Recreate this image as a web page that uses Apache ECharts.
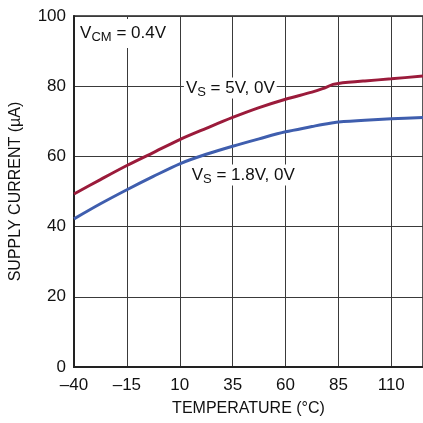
<!DOCTYPE html>
<html><head><meta charset="utf-8">
<script src="https://cdn.jsdelivr.net/npm/echarts@6/dist/echarts.min.js"></script>
<style>html,body{margin:0;padding:0;background:#fff}#c{width:423px;height:423px}</style>
</head><body><div id="c"></div>
<script>
const temps = [-40, -27.5, -15, -2.5, 10, 22.5, 35, 47.5, 60, 72.5, 77.5, 82.5, 85, 97.5, 110, 125];
const vs5 = [49.3, 53.4, 57.4, 61.1, 64.8, 68.0, 71.1, 73.9, 76.3, 78.3, 79.3, 80.5, 80.8, 81.5, 82.1, 82.9];
const vs18 = [42.2, 46.5, 50.5, 54.3, 57.9, 60.6, 62.9, 65.0, 67.0, 68.5, 69.1, 69.6, 69.8, 70.3, 70.7, 71.1];
const xTicks = [-40, -15, 10, 35, 60, 85, 110];
const yTicks = [0, 20, 40, 60, 80, 100];
const FONT = "'Liberation Sans', sans-serif";

const chart = echarts.init(document.getElementById('c'));
const toPts = arr => temps.map((t, i) => [t, arr[i]]);
const rich = {
  n: {fontFamily: FONT, fontSize: 17, color: '#111'},
  s: {fontFamily: FONT, fontSize: 13, color: '#111', padding: [8, 0, 0, 0]}
};
chart.setOption({
  animation: false,
  grid: {left: 72, top: 16, right: 0, bottom: 56, show: true, borderColor: '#222', borderWidth: 1.5, backgroundColor: 'transparent'},
  xAxis: {
    type: 'value', min: -40, max: 125, interval: 25,
    axisLine: {show: true, onZero: false, lineStyle: {color: '#222', width: 2}},
    axisTick: {show: false},
    axisLabel: {showMaxLabel: false, fontFamily: FONT, fontSize: 17, color: '#111', margin: 10,
      formatter: v => v < 0 ? '\u2013' + Math.abs(v) : String(v)},
    splitLine: {show: true, lineStyle: {color: '#3a3a3a', width: 1}},
    name: 'TEMPERATURE (\u00B0C)', nameLocation: 'middle', nameGap: 34,
    nameTextStyle: {fontFamily: FONT, fontSize: 16, color: '#111'}
  },
  yAxis: {
    type: 'value', min: 0, max: 100, interval: 20,
    axisLine: {show: true, onZero: false, lineStyle: {color: '#222', width: 2}},
    axisTick: {show: false},
    axisLabel: {fontFamily: FONT, fontSize: 17, color: '#111', margin: 8},
    splitLine: {show: true, lineStyle: {color: '#3a3a3a', width: 1}},
    name: 'SUPPLY CURRENT (\u00B5A)', nameLocation: 'middle', nameGap: 50,
    nameTextStyle: {fontFamily: FONT, fontSize: 16, color: '#111'}
  },
  series: [
    {type: 'line', data: toPts(vs5), smooth: 0.3, showSymbol: false,
     lineStyle: {color: '#9b1b3b', width: 3}, z: 5,
     markPoint: {symbol: 'rect', symbolSize: 0, data: [{coord: [33.9, 79.5], value: 0,
       label: {show: true, formatter: '{n|V}{s|S}{n| = 5V, 0V}', rich: rich,
         backgroundColor: '#fff', padding: [0, 2, 0, 2], position: 'inside'}}]}},
    {type: 'line', data: toPts(vs18), smooth: 0.3, showSymbol: false,
     lineStyle: {color: '#3f5eae', width: 3}, z: 5,
     markPoint: {symbol: 'rect', symbolSize: 0, data: [
       {coord: [40, 54.7], value: 0,
        label: {show: true, formatter: '{n|V}{s|S}{n| = 1.8V, 0V}', rich: rich,
          backgroundColor: '#fff', padding: [0, 2, 0, 2], position: 'inside'}},
       {coord: [-16.8, 95.0], value: 0,
        label: {show: true, formatter: '{n|V}{s|CM}{n| = 0.4V}', rich: rich,
          backgroundColor: '#fff', padding: [4, 5, 4, 5], position: 'inside'}}
     ]}}
  ]
});
</script></body></html>
